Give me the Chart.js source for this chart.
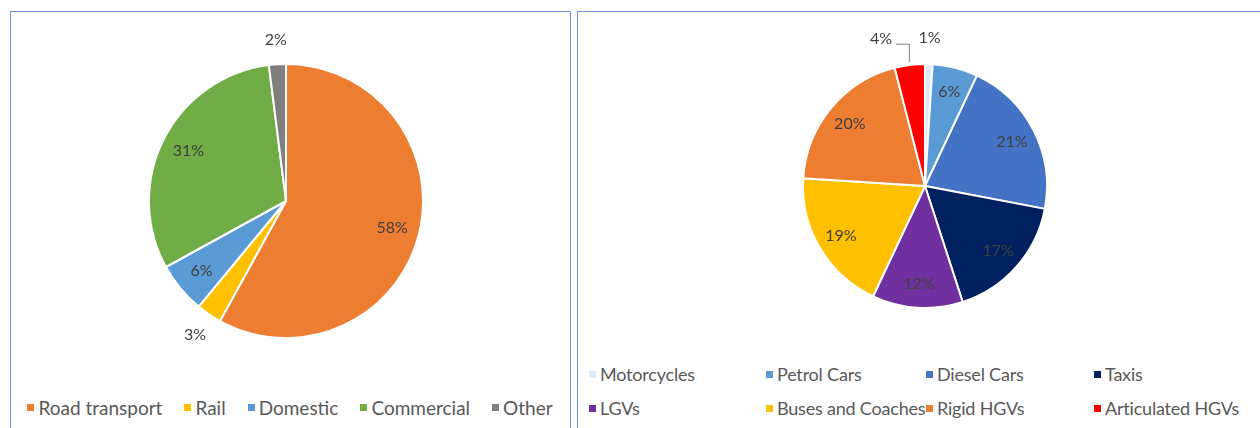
<!DOCTYPE html>
<html>
<head>
<meta charset="utf-8">
<script src="https://cdn.jsdelivr.net/npm/chart.js@4"></script>
<style>
  body { margin: 0; background: #fff; width: 1260px; height: 428px; overflow: hidden; position: relative; font-family: Lato, "Open Sans", sans-serif; }
  .panel { position: absolute; box-sizing: border-box; border: 1.5px solid #6f93d6; }
  canvas { position: absolute; }
  .legend { position: absolute; color: #595959; font-size: 19px; }
  .legend .item { display: flex; align-items: center; white-space: nowrap; }
  .legend .box { width: 7px; height: 7px; margin-right: 4px; flex: none; }
  #leftLegend { left: 10px; width: 560px; top: 396px; display: flex; justify-content: center; gap: 22px; }
  #rightLegend { left: 589px; top: 363px; font-size: 18px; letter-spacing: -0.2px; display: grid; grid-template-columns: 177px 160px 168px auto; row-gap: 12px; }
</style>
</head>
<body>
<div class="panel" style="left:10px; top:11px; width:561px; height:440px;"></div>
<div class="panel" style="left:577px; top:11px; width:700px; height:440px;"></div>
<canvas id="energy" width="556" height="350" style="left:12px; top:13px;"></canvas>
<canvas id="vehicles" width="679" height="340" style="left:579px; top:13px;"></canvas>
<div class="legend" id="leftLegend"></div>
<div class="legend" id="rightLegend"></div>
<script>
  // left pie: share of emissions by sector (%)
  const sectorLabels = ["Road transport", "Rail", "Domestic", "Commercial", "Other"];
  const sectorValues = [58, 3, 6, 31, 2];
  const sectorColors = ["#ED7D31", "#FFC000", "#5B9BD5", "#70AD47", "#7F7F7F"];

  // right pie: road transport split by vehicle type (%)
  const vehicleLabels = ["Motorcycles", "Petrol Cars", "Diesel Cars", "Taxis", "LGVs",
    "Buses and Coaches", "Rigid HGVs", "Articulated HGVs"];
  const vehicleValues = [1, 6, 21, 17, 12, 19, 20, 4];
  const vehicleColors = ["#DDEBF7", "#5B9BD5", "#4472C4", "#002060", "#7030A0",
    "#FFC000", "#ED7D31", "#FF0000"];

  // draws the percent labels, small slices get theirs outside
  const pctLabels = {
    id: "pctLabels",
    afterDatasetsDraw(chart) {
      let ctx = chart.ctx;
      let arcs = chart.getDatasetMeta(0).data;
      let values = chart.data.datasets[0].data;
      let spots = [];
      for (let i = 0; i < arcs.length; i++) {
        let a = arcs[i];
        let mid = (a.startAngle + a.endAngle) / 2;
        let out = values[i] < 5;
        let f = out ? 1.18 : 0.8;
        spots.push({
          text: values[i] + "%",
          out: out,
          x: a.x + Math.cos(mid) * a.outerRadius * f,
          y: a.y + Math.sin(mid) * a.outerRadius * f,
          ex: a.x + Math.cos(mid) * (a.outerRadius + 3),
          ey: a.y + Math.sin(mid) * (a.outerRadius + 3)
        });
      }
      ctx.save();
      ctx.font = "16px Lato";
      ctx.fillStyle = "#404040";
      ctx.textAlign = "center";
      ctx.textBaseline = "middle";
      // outside labels that bump into each other: push the left one aside with a leader
      for (let i = 0; i < spots.length; i++) {
        let s = spots[i];
        if (!s.out) continue;
        for (let j = 0; j < spots.length; j++) {
          let o = spots[j];
          if (j === i || !o.out) continue;
          if (s.x < o.x && Math.abs(s.x - o.x) < 32 && Math.abs(s.y - o.y) < 16) {
            s.x -= 26;
            s.y -= 4;
            ctx.strokeStyle = "#7f7f7f";
            ctx.lineWidth = 1;
            ctx.beginPath();
            ctx.moveTo(s.x + 15, s.y + 5);
            ctx.lineTo(s.ex, s.y + 5);
            ctx.lineTo(s.ex, s.ey);
            ctx.stroke();
            o.y -= 4;
          }
        }
      }
      for (let i = 0; i < spots.length; i++) {
        ctx.fillText(spots[i].text, spots[i].x, spots[i].y);
      }
      ctx.restore();
    }
  };

  function makePie(id, labels, values, colors, padding) {
    return new Chart(document.getElementById(id), {
      type: "pie",
      data: {
        labels: labels,
        datasets: [{
          data: values,
          backgroundColor: colors,
          borderColor: "#ffffff",
          borderWidth: 2
        }]
      },
      options: {
        responsive: false,
        animation: false,
        layout: { padding: padding },
        plugins: { legend: { display: false }, tooltip: { enabled: false } }
      },
      plugins: [pctLabels]
    });
  }

  function makeLegend(id, labels, colors) {
    let legend = document.getElementById(id);
    for (let i = 0; i < labels.length; i++) {
      let item = document.createElement("div");
      item.className = "item";
      let box = document.createElement("span");
      box.className = "box";
      box.style.background = colors[i];
      let text = document.createElement("span");
      text.textContent = labels[i];
      item.appendChild(box);
      item.appendChild(text);
      legend.appendChild(item);
    }
  }

  makePie("energy", sectorLabels, sectorValues, sectorColors,
    { left: 136, top: 50, right: 144, bottom: 24 });
  makePie("vehicles", vehicleLabels, vehicleValues, vehicleColors,
    { left: 223, top: 50, right: 210, bottom: 44 });
  makeLegend("leftLegend", sectorLabels, sectorColors);
  makeLegend("rightLegend", vehicleLabels, vehicleColors);
</script>
</body>
</html>
